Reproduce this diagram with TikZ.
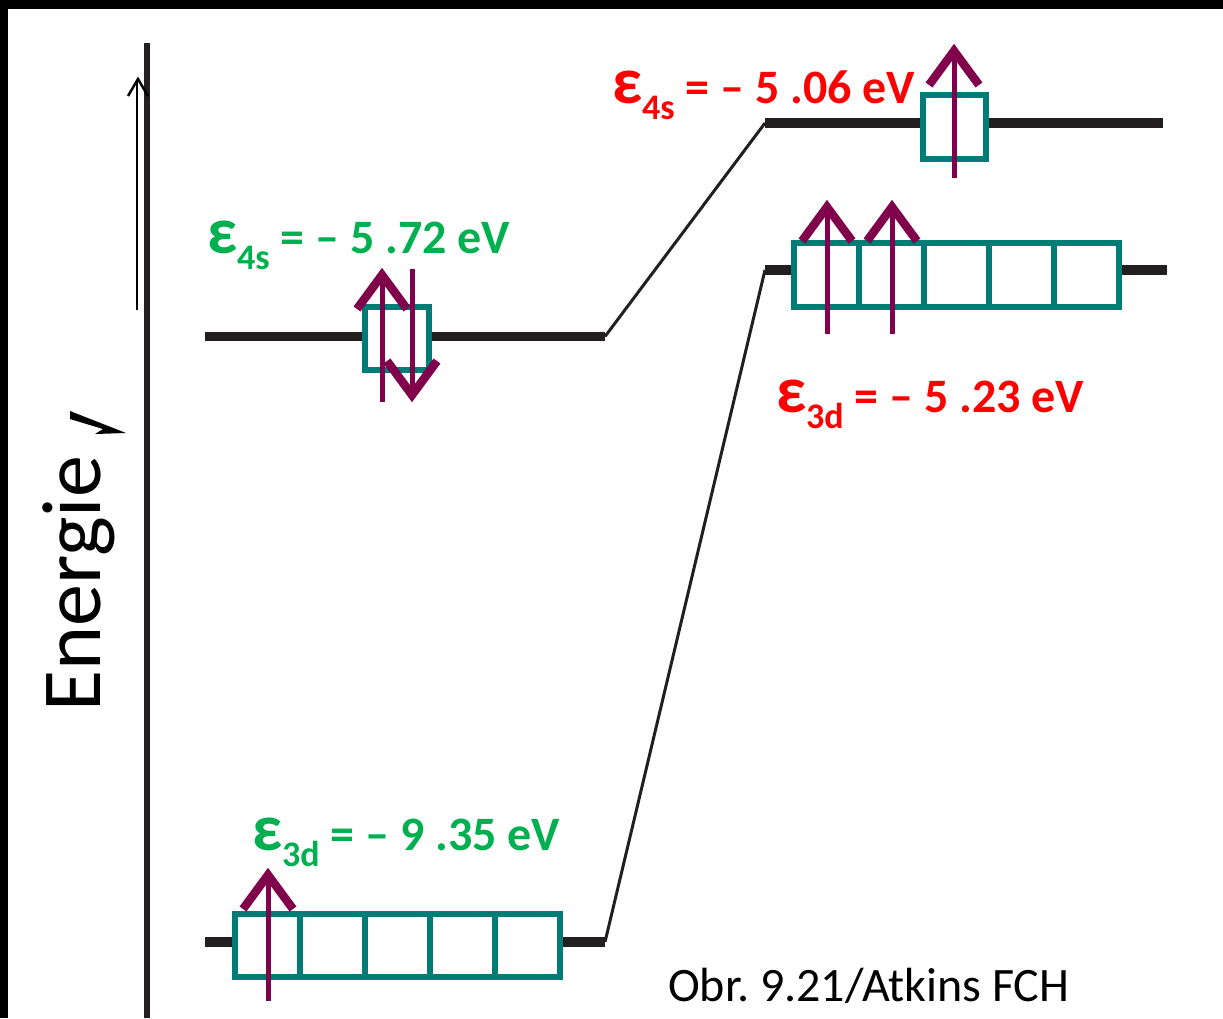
\documentclass[tikz,border=0pt]{standalone}
\usepackage{fontspec}
\setmainfont{Carlito}
\definecolor{teal}{RGB}{0,123,118}
\definecolor{spin}{RGB}{128,0,75}
\definecolor{egreen}{RGB}{0,176,80}
\definecolor{ered}{RGB}{255,0,0}
\definecolor{ink}{RGB}{35,31,32}
\newcommand{\eps}[1]{{\fontsize{66}{66}\selectfont ε}{\fontsize{36}{36}\selectfont\raisebox{-16pt}{#1}}}
\newcommand{\spinup}[3]{% x, bottom y, tip y
  \draw[spinshaft] (#1,#2) -- (#1,#3+6);
  \draw[spinhead] (#1-25,#3+41) -- (#1,#3+7) -- (#1+25,#3+41);}
\newcommand{\spindown}[3]{% x, top y, tip y
  \draw[spinshaft] (#1,#2) -- (#1,#3-6);
  \draw[spinhead] (#1-25,#3-41) -- (#1,#3-7) -- (#1+25,#3-41);}
\begin{document}
\begin{tikzpicture}[x=1pt,y=-1pt,
  level/.style={draw=ink,line width=9.5pt},
  link/.style={draw=ink,line width=3pt},
  orb/.style={draw=teal,line width=5.5pt,fill=white},
  spinshaft/.style={draw=spin,line width=5pt},
  spinhead/.style={draw=spin,line width=8.5pt,miter limit=10},
  lbl/.style={inner sep=0pt,outer sep=0pt,anchor=base west,font=\fontsize{48}{48}\selectfont\bfseries}]
\useasboundingbox (0,0) rectangle (1223,1018);
% frame
\fill[black] (0,0) rectangle (1223,9);
\fill[black] (0,0) rectangle (8,1018);
% energy axis
\draw[ink,line width=5.5pt] (147,43) -- (147,1018);
\draw[black,line width=2pt] (137,310) -- (137,80);
\draw[black,line width=2.5pt] (128,96) -- (138,79) -- (148,96);
\node[inner sep=0pt,anchor=base west,rotate=90,font=\fontsize{84}{84}\selectfont] (energie) at (100,712) {Energie};
\fill[black] (70,411) -- (126,433) -- (95,434) -- (103,429) -- (70,419) -- cycle;
% coordinates of levels
\coordinate (a1) at (205,336.5);
\coordinate (a2) at (605,336.5);
\coordinate (b1) at (765,123);
\coordinate (b2) at (1163,123);
\coordinate (c1) at (765,270);
\coordinate (c2) at (1167,270);
\coordinate (d1) at (205,942);
\coordinate (d2) at (605,942);
% levels and links
\draw[level] (a1) -- (a2);
\draw[level] (b1) -- (b2);
\draw[level] (c1) -- (c2);
\draw[level] (d1) -- (d2);
\draw[link] (a2) -- (b1);
\draw[link] (d2) -- (c1);
% orbital boxes
\draw[orb] (365,307) rectangle (429,370);
\draw[orb] (923,95) rectangle (986,159);
\draw[orb] (794,243) rectangle (1119,307);
\foreach \x in {859,924,989,1054} \draw[teal,line width=5.5pt] (\x,243) -- (\x,307);
\draw[orb] (235,914) rectangle (560,977);
\foreach \x in {300,365,430,495} \draw[teal,line width=5.5pt] (\x,914) -- (\x,977);
% spins
\spinup{382}{402}{268}
\spindown{412}{269}{402}
\spinup{954}{178}{44}
\spinup{827}{334}{200}
\spinup{892}{334}{200}
\spinup{268}{1001}{868}
% labels
\node[lbl,text=egreen] (l4sg) at (207,253) {\eps{4s} = – 5 .72 eV};
\node[lbl,text=ered] (l4sr) at (612,103) {\eps{4s} = – 5 .06 eV};
\node[lbl,text=ered] (l3dr) at (776,412) {\eps{3d} = – 5 .23 eV};
\node[lbl,text=egreen] (l3dg) at (252,850) {\eps{3d} = – 9 .35 eV};
\node[inner sep=0pt,anchor=base west,font=\fontsize{48}{48}\selectfont] (src) at (668,1001) {Obr.\ 9.21/Atkins FCH};
\end{tikzpicture}
\end{document}
